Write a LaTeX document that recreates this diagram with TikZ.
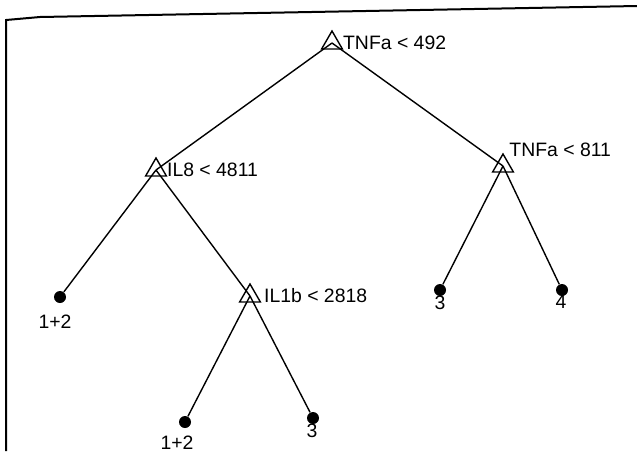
\documentclass[tikz,border=0pt]{standalone}
\usepackage{fontspec}
\setmainfont{Liberation Sans}
\usetikzlibrary{shapes.geometric,positioning}
\tikzset{
  treesplit/.style={
    regular polygon,
    regular polygon sides=3,
    draw,
    line width=.7pt,
    minimum size=12pt,
    inner sep=0pt
  },
  treeleaf/.style={
    circle,
    fill=black,
    minimum size=6pt,
    inner sep=0pt
  },
  treelabel/.style={font=\fontsize{9.7}{11}\selectfont,inner sep=1.5pt},
  treeedge/.style={line width=.7pt}
}

\begin{document}
\begin{tikzpicture}[x=.5pt,y=-.5pt]
    \useasboundingbox (0,0) rectangle (637,451);
    \draw[line width=1pt] (6,451) -- (6,20) -- (40,17) -- (637,6);
    % splits
    \node[treesplit] (tnfa) at (332,43) {};
    \node[treesplit] (ileight) at (156,170) {};
    \node[treesplit] (tnfb) at (503,166) {};
    \node[treesplit] (ilone) at (250,296) {};
    \node[treelabel,right=0pt of tnfa] (tnfatext) {TNFa < 492};
    \node[treelabel,right=0pt of ileight] (ileighttext) {IL8 < 4811};
    \node[treelabel,right=1.5pt of tnfb.north,yshift=1.5pt] (tnfbtext) {TNFa < 811};
    \node[treelabel,right=1.5pt of ilone] (ilonetext) {IL1b < 2818};
    % leaves
    \node[treeleaf] (leafa) at (60,297) {};
    \node[treeleaf] (leafb) at (185,422) {};
    \node[treeleaf] (leafc) at (313,418) {};
    \node[treeleaf] (leafd) at (440,290) {};
    \node[treeleaf] (leafe) at (562,290) {};
    \node[treelabel] (leafatext) at (55,322) {1+2};
    \node[treelabel] (leafbtext) at (177,443) {1+2};
    \node[treelabel] (leafctext) at (312,431) {3};
    \node[treelabel] (leafdtext) at (440,303) {3};
    \node[treelabel] (leafetext) at (561,302) {4};
    % edges
    \draw[treeedge] (tnfa.center) -- (ileight.center);
    \draw[treeedge] (tnfa.center) -- (tnfb.center);
    \draw[treeedge] (ileight.center) -- (leafa);
    \draw[treeedge] (ileight.center) -- (ilone.center);
    \draw[treeedge] (ilone.center) -- (leafb);
    \draw[treeedge] (ilone.center) -- (leafc);
    \draw[treeedge] (tnfb.center) -- (leafd);
    \draw[treeedge] (tnfb.center) -- (leafe);
\end{tikzpicture}
\end{document}
